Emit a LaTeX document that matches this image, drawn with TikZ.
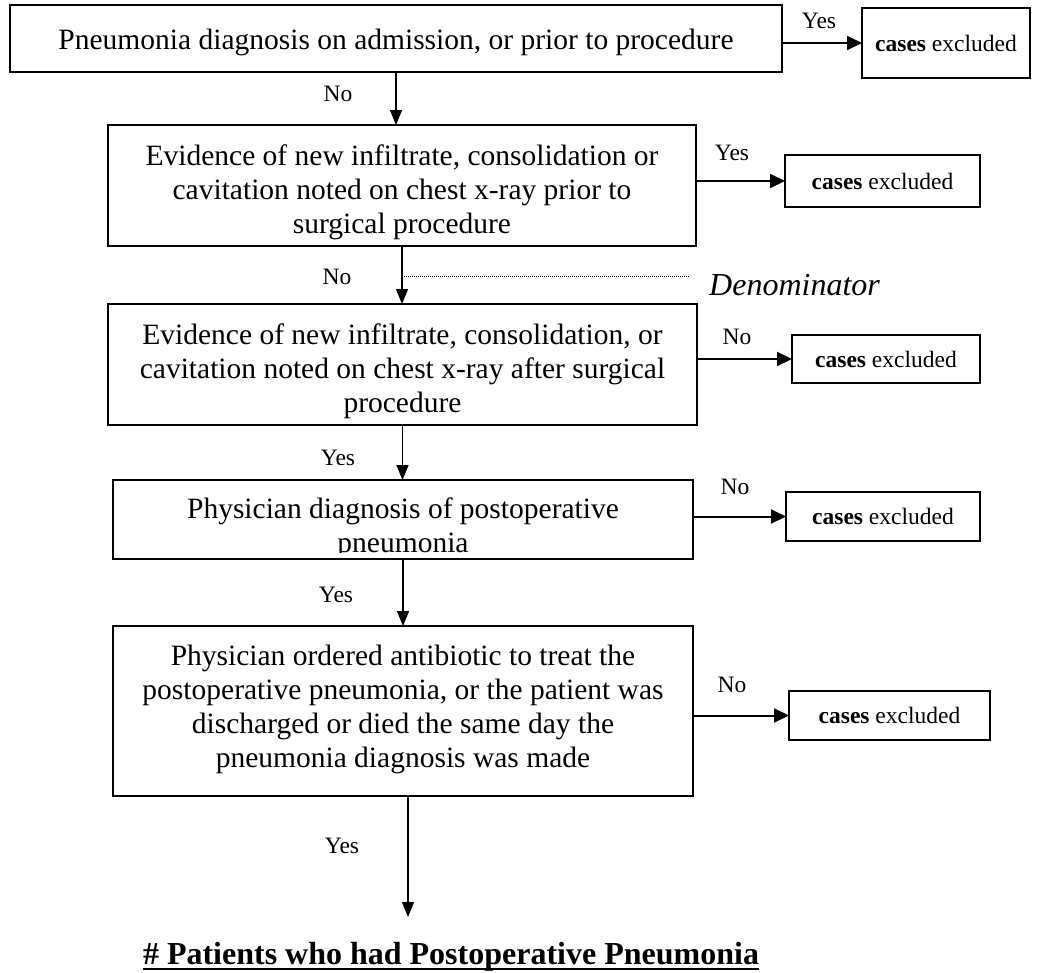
\documentclass[tikz,border=0pt]{standalone}
\usepackage{fontspec}
\setmainfont{Liberation Serif}
\usetikzlibrary{arrows.meta}
\newcommand{\bodysz}{\fontsize{29.5}{34}\selectfont}
\newcommand{\casesz}{\fontsize{23.5}{27}\selectfont}
\newcommand{\lblsz}{\fontsize{23.5}{27}\selectfont}
\tikzset{
  box/.style={draw, line width=1.6pt, inner sep=0pt, outer sep=0pt},
  boxtext/.style={inner sep=0pt, align=center, font=\bodysz},
  excl/.style={draw, line width=1.6pt, inner sep=0pt, outer sep=0pt, align=center, font=\casesz},
  lbl/.style={inner sep=0pt, font=\lblsz},
  sidearrow/.style={line width=2pt, -{Triangle[length=15pt,width=14pt]}},
  downarrow/.style={line width=1.3pt, -{Triangle[length=15pt,width=12pt]}},
  denline/.style={line width=0.8pt, dash pattern=on 0.8pt off 1.2pt}
}
\begin{document}
\begin{tikzpicture}[x=1pt,y=-1pt]
\useasboundingbox[fill=white] (0,0) rectangle (1055,972);

% main decision boxes and their texts
\node[box, minimum width=772pt, minimum height=67pt] (b1) at (396,38.5) {};
\node[boxtext] (b1t) at ([yshift=-4pt]b1.center)
  {Pneumonia diagnosis on admission, or prior to procedure};

\node[box, minimum width=588pt, minimum height=121pt] (b2) at (402,185.5) {};
\node[boxtext] (b2t) at ([yshift=-7pt]b2.center)
  {Evidence of new infiltrate, consolidation or\\cavitation noted on chest x-ray prior to\\surgical procedure};

\node[box, minimum width=589pt, minimum height=121pt] (b3) at (402.5,364.5) {};
\node[boxtext] (b3t) at ([yshift=-7pt]b3.center)
  {Evidence of new infiltrate, consolidation, or\\cavitation noted on chest x-ray after surgical\\procedure};

\node[box, minimum width=580pt, minimum height=79pt] (b4) at (403,519.5) {};
\begin{scope}
  \clip (b4.north west) rectangle ([yshift=7pt]b4.south east);
  \node[boxtext] (b4t) at (403,528)
    {Physician diagnosis of postoperative\\pneumonia};
\end{scope}

\node[box, minimum width=580pt, minimum height=170pt] (b5) at (403,711) {};
\node[boxtext] (b5t) at ([yshift=1.5pt]b5.center)
  {Physician ordered antibiotic to treat the\\postoperative pneumonia, or the patient was\\discharged or died the same day the\\pneumonia diagnosis was made};

% exclusion boxes
\node[excl, minimum width=168pt, minimum height=70pt] (c1) at (946,43) {\textbf{cases} excluded};
\node[excl, minimum width=195pt, minimum height=52pt] (c2) at (882.5,181) {\textbf{cases} excluded};
\node[excl, minimum width=188pt, minimum height=48pt] (c3) at (886,359) {\textbf{cases} excluded};
\node[excl, minimum width=194pt, minimum height=49pt] (c4) at (883,516.5) {\textbf{cases} excluded};
\node[excl, minimum width=201pt, minimum height=49pt] (c5) at (889.5,715.5) {\textbf{cases} excluded};

% side branches
\draw[sidearrow] (b1.east |- c1.west) -- (c1.west);
\draw[sidearrow] (b2.east |- c2.west) -- (c2.west);
\draw[sidearrow] (b3.east |- c3.west) -- (c3.west);
\draw[sidearrow] (b4.east |- c4.west) -- (c4.west);
\draw[sidearrow] (b5.east |- c5.west) -- (c5.west);
\node[lbl] (y1) at (819,21) {Yes};
\node[lbl] (y2) at (732,153) {Yes};
\node[lbl] (n3) at (737,337) {No};
\node[lbl] (n4) at (735,487) {No};
\node[lbl] (n5) at (732,685) {No};

% main flow
\draw[downarrow] (b1.south) -- (b1.south |- b2.north);
\draw[downarrow] (b2.south) -- (b2.south |- b3.north);
\draw[downarrow] (b3.south) -- (b3.south |- b4.north);
\draw[downarrow] (b4.south) -- (b4.south |- b5.north);
\coordinate (flowend) at (408,917);
\draw[downarrow] ([xshift=5pt]b5.south) -- (flowend);
\node[lbl] (n1) at (338,94) {No};
\node[lbl] (n2) at (337,277) {No};
\node[lbl] (y3) at (338,458) {Yes};
\node[lbl] (y4) at (336,595) {Yes};
\node[lbl] (y5) at (342,846) {Yes};

% denominator marker
\coordinate (dotend) at (689,276);
\draw[denline] (b2.south |- dotend) -- (dotend);
\node[inner sep=0pt, anchor=west, font=\fontsize{32}{36}\selectfont\itshape] (den) at (709,285) {Denominator};

% result
\node[inner sep=0pt, anchor=base, font=\fontsize{32}{36}\selectfont\bfseries] (res) at (451,964)
  {\# Patients who had Postoperative Pneumonia};
\draw[line width=2.6pt] ([yshift=-5pt]res.base west) -- ([yshift=-5pt]res.base east);
\end{tikzpicture}
\end{document}
